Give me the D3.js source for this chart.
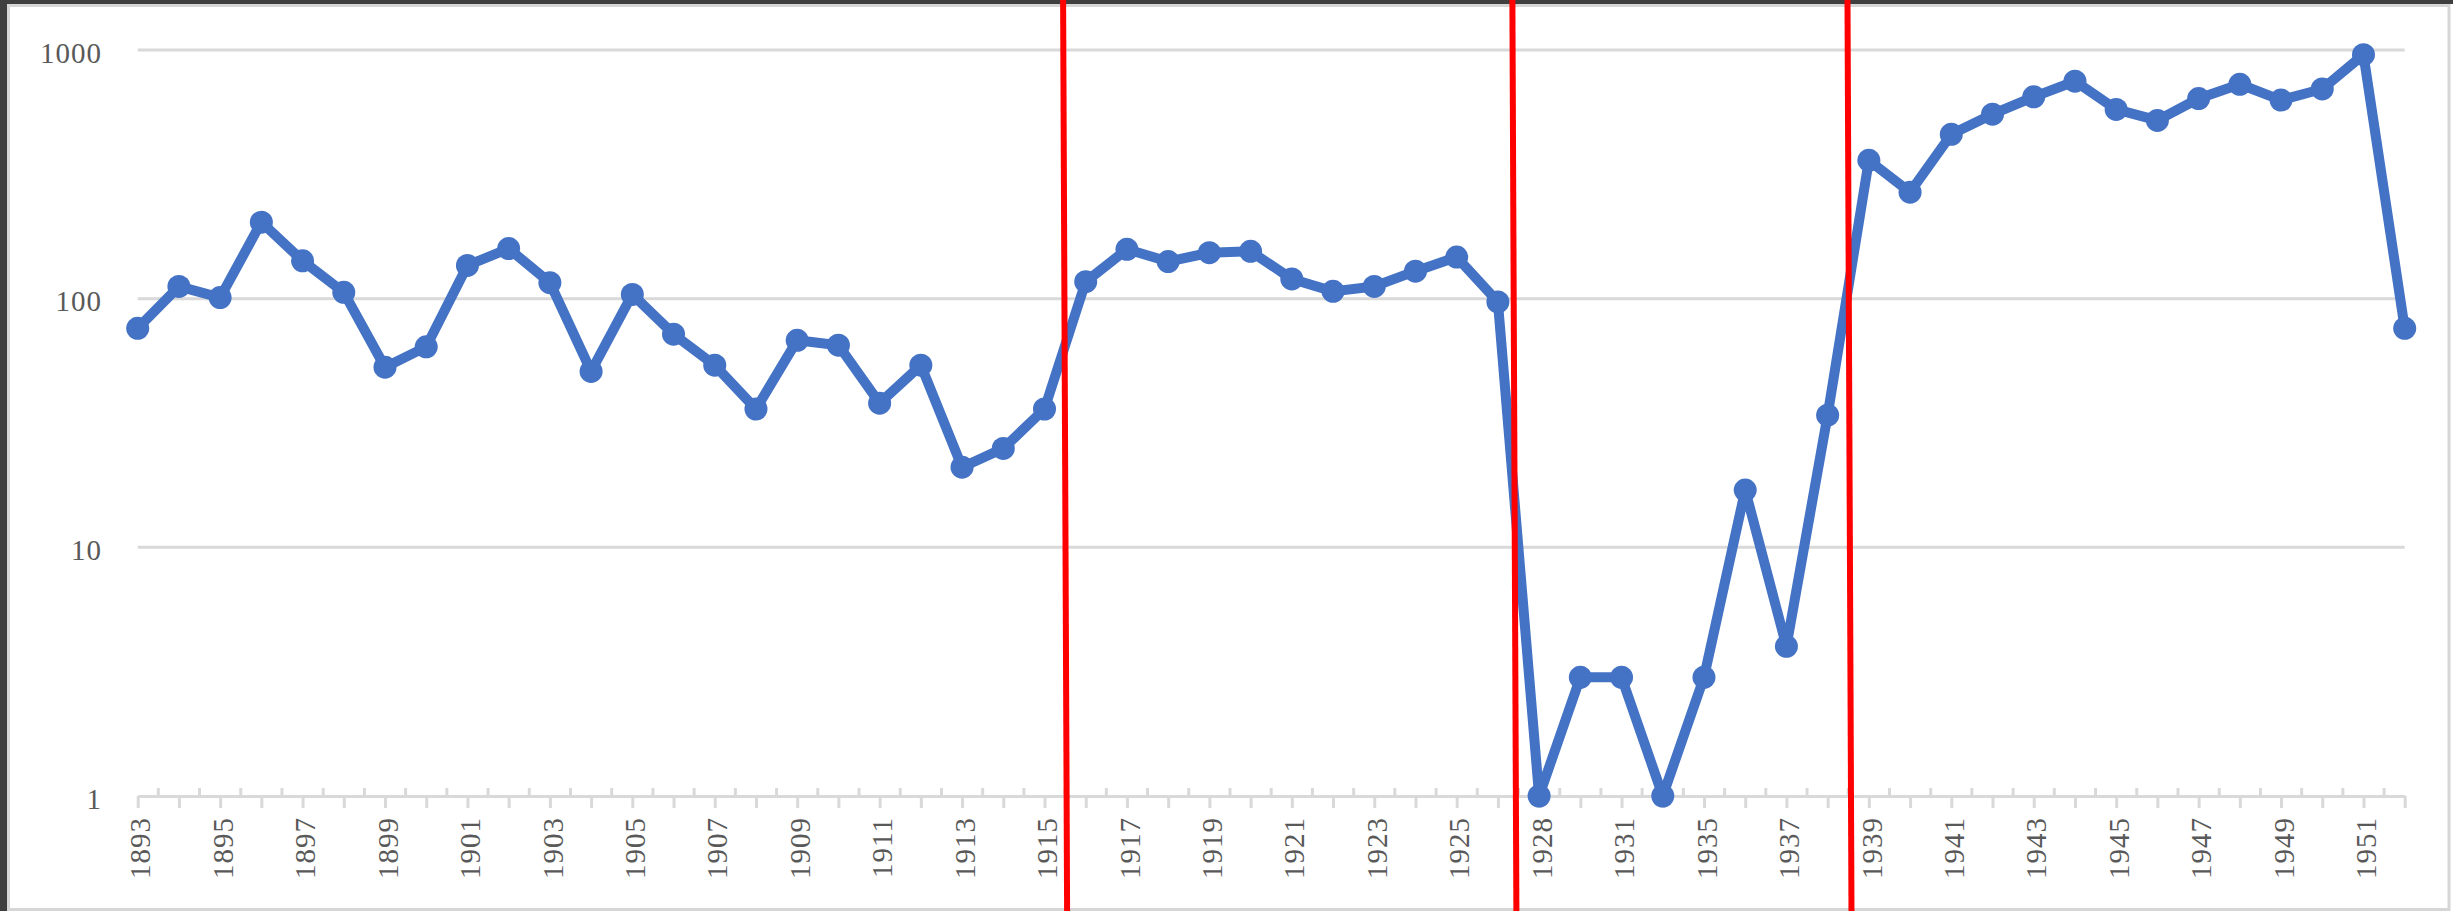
<!DOCTYPE html>
<html>
<head>
<meta charset="utf-8">
<script src="https://cdn.jsdelivr.net/npm/d3@7"></script>
<style>
  html, body { margin: 0; padding: 0; background: #ffffff; }
  svg { display: block; }
</style>
</head>
<body>
<script>
// ---- Data ----
const years = ["1893","1894","1895","1896","1897","1898","1899","1900","1901","1902",
  "1903","1904","1905","1906","1907","1908","1909","1910","1911","1912",
  "1913","1914","1915","1916","1917","1918","1919","1920","1921","1922",
  "1923","1924","1925","1926","1928","1930","1931","1933","1935","1936",
  "1937","1938","1939","1940","1941","1942","1943","1944","1945","1946",
  "1947","1948","1949","1950","1951","1952"];
const values = [76,112,101,203,142,106,53,64,136,159,
  116,51,104,72,54,36,68,65,38,54,
  21,25,36,117,158,141,153,155,120,107,
  112,129,147,97,1,3,3,1,3,17,
  4,34,360,268,458,552,648,749,577,521,
  638,728,629,697,958,76];
const yTicks = [1, 10, 100, 1000];
// red separators: placed between categories (after given year, fraction of a step)
const separators = [
  { after: "1915", frac: 0.5 },
  { after: "1926", frac: 0.4 },
  { after: "1938", frac: 0.53 }
];

// ---- Layout ----
const W = 2453, H = 911;
const x0 = 137.7, x1 = 2404.7, yTop = 50, yBot = 796;
const font = "'Liberation Serif', 'Times New Roman', serif";
const textColor = "#595959";
const gridColor = "#d9d9d9";

const svg = d3.select("body").append("svg").attr("width", W).attr("height", H);

// frame
svg.append("rect").attr("x", 0).attr("y", 0).attr("width", W).attr("height", H).attr("fill", "#ffffff");
svg.append("rect").attr("x", 0).attr("y", 0).attr("width", W).attr("height", 4).attr("fill", "#3f3f3f");
svg.append("rect").attr("x", 0).attr("y", 0).attr("width", 7).attr("height", H).attr("fill", "#3f3f3f");
svg.append("rect").attr("x", 8.5).attr("y", 5.5).attr("width", 2440.5).attr("height", 904)
  .attr("fill", "none").attr("stroke", "#d6d6d6").attr("stroke-width", 3);

const x = d3.scalePoint().domain(years).range([x0, x1]);
const y = d3.scaleLog().domain([1, 1000]).range([yBot, yTop]);

// gridlines
svg.append("g").selectAll("line").data(yTicks.filter(d => d > 1)).join("line")
  .attr("x1", x0).attr("x2", x1)
  .attr("y1", d => y(d)).attr("y2", d => y(d))
  .attr("stroke", gridColor).attr("stroke-width", 3);

// y labels
const yAxis = d3.axisLeft(y).tickValues(yTicks).tickFormat(d3.format("d")).tickSize(0).tickPadding(0);
const gy = svg.append("g").attr("transform", `translate(102,3)`).call(yAxis);
gy.select(".domain").remove();
gy.selectAll("text").attr("font-family", font).attr("font-size", 29)
  .attr("letter-spacing", "1px").attr("fill", textColor);

// x axis
const xAxis = d3.axisBottom(x).tickSizeInner(12).tickSizeOuter(0)
  .tickFormat((d, i) => (i % 2 === 0 ? d : ""));
const gx = svg.append("g").attr("transform", `translate(0,${yBot})`).call(xAxis);
gx.select(".domain").attr("stroke", gridColor).attr("stroke-width", 3);
gx.selectAll(".tick line").attr("stroke", gridColor).attr("stroke-width", 3);
gx.selectAll(".tick text")
  .attr("font-family", font).attr("font-size", 29).attr("fill", textColor)
  .attr("letter-spacing", "1px")
  .attr("text-anchor", "end")
  .attr("transform", "translate(2,21) rotate(-90)")
  .attr("x", 0).attr("y", 0).attr("dy", "0.35em");

// minor (inner) ticks between categories
const mids = years.slice(0, -1).map((d, i) => (x(d) + x(years[i + 1])) / 2);
svg.append("g").selectAll("line").data(mids).join("line")
  .attr("x1", d => d).attr("x2", d => d)
  .attr("y1", yBot - 8).attr("y2", yBot)
  .attr("stroke", gridColor).attr("stroke-width", 3);

// series line
const series = years.map((d, i) => ({ year: d, v: values[i] }));
svg.append("path").datum(series)
  .attr("d", d3.line().x(d => x(d.year)).y(d => y(d.v)))
  .attr("fill", "none").attr("stroke", "#4472c4").attr("stroke-width", 10)
  .attr("stroke-linejoin", "round").attr("stroke-linecap", "round");
svg.append("g").selectAll("circle").data(series).join("circle")
  .attr("cx", d => x(d.year)).attr("cy", d => y(d.v)).attr("r", 11.5)
  .attr("fill", "#4472c4");

// red separators (slightly leaning, hand drawn)
const step = x.step();
svg.append("g").selectAll("line").data(separators).join("line")
  .attr("x1", d => x(d.after) + d.frac * step - 2).attr("y1", 0)
  .attr("x2", d => x(d.after) + d.frac * step + 2).attr("y2", H)
  .attr("stroke", "#ff0000").attr("stroke-width", 6);
</script>
</body>
</html>
